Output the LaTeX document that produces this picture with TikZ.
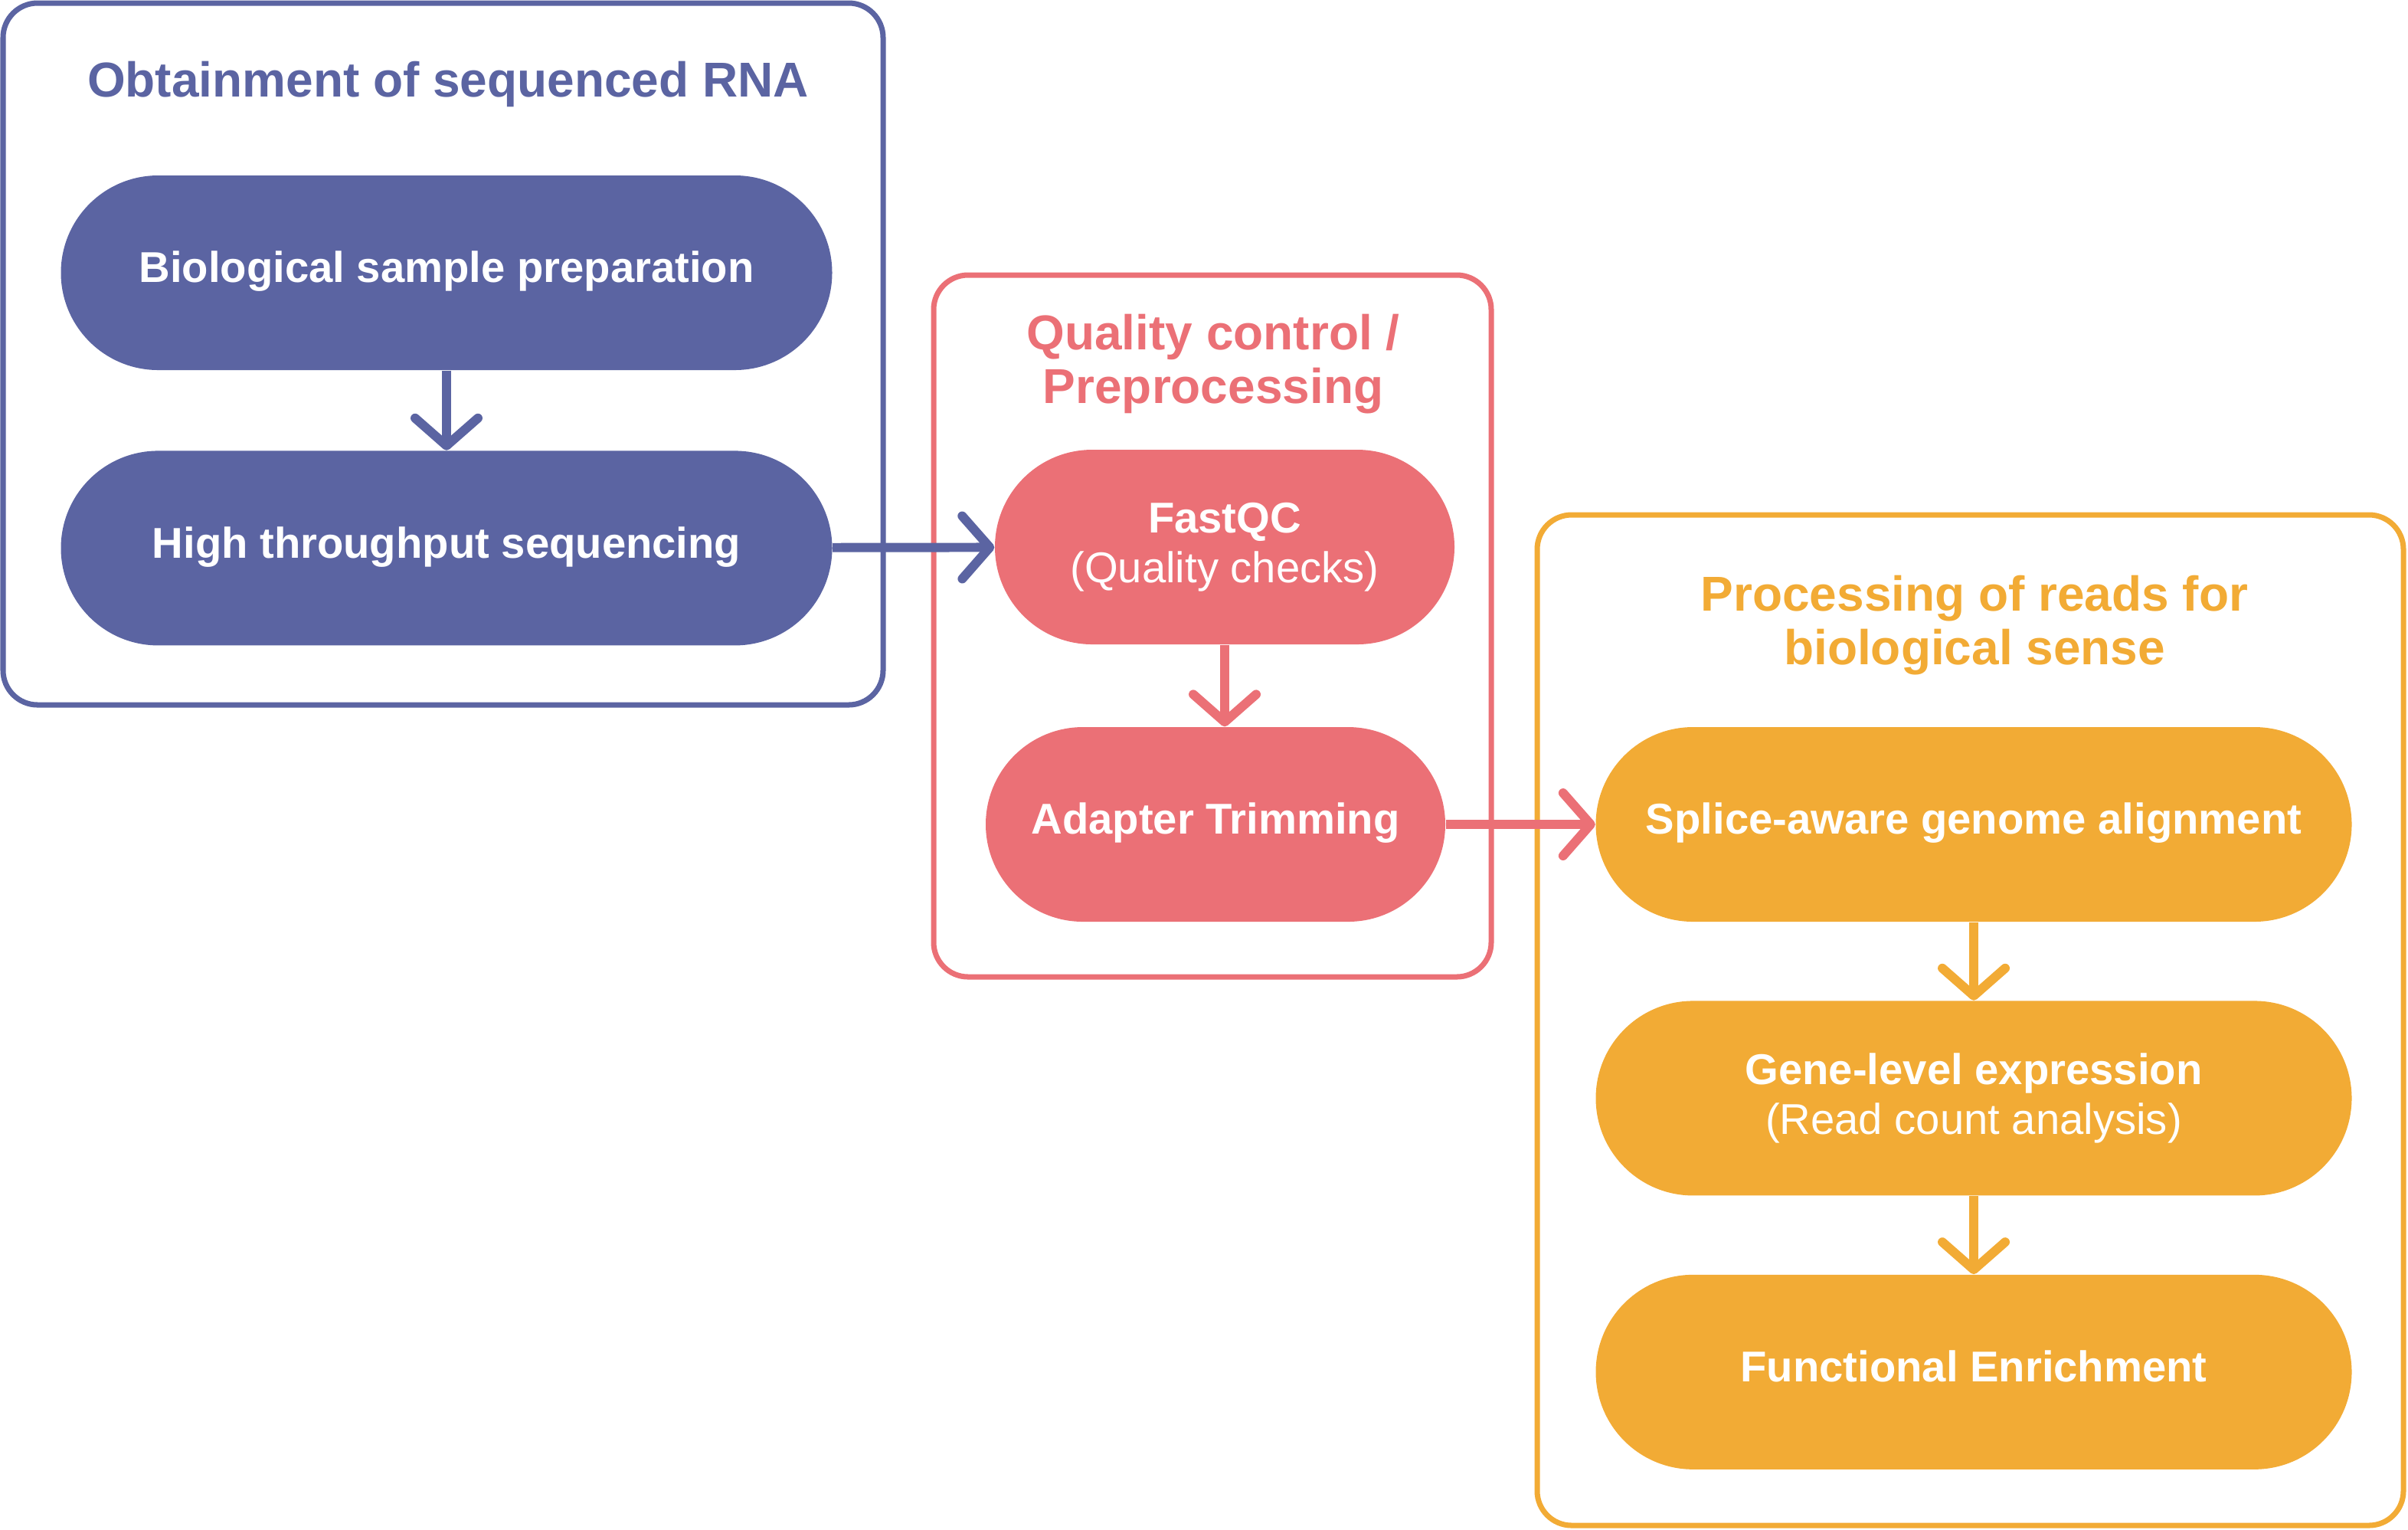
\documentclass[tikz,border=0pt]{standalone}
\usepackage{fontspec}
\setmainfont{Liberation Sans}
\usepackage{tikz}
\usetikzlibrary{
  arrows.meta,
  positioning
}
\definecolor{rnaBlue}{HTML}{5B64A2}
\definecolor{rnaRed}{HTML}{EB7076}
\definecolor{rnaOrange}{HTML}{F2AB35}
\newcommand{\subline}[1]{{\fontsize{16}{18.5}\selectfont\mdseries #1}}
\tikzset{
  stepnode/.style={
    rounded corners=1.27cm, minimum height=2.54cm, inner sep=0pt,
    text=white, align=center, font=\fontsize{16}{18.5}\selectfont\bfseries
  },
  oneline/.style={text height=0.9em, text depth=0.184em},
  bluestep/.style={stepnode, fill=rnaBlue, minimum width=10.07cm},
  redstep/.style={stepnode, fill=rnaRed, minimum width=6.0cm},
  orangestep/.style={stepnode, fill=rnaOrange, minimum width=9.87cm},
  zone/.style={draw=#1, rounded corners=0.45cm, line width=2pt, inner sep=0pt},
  zonetitle/.style={text=#1, align=center, font=\fontsize{18.2}{19.7}\selectfont\bfseries},
  flow/.style={draw=#1, line width=3.4pt, -{Straight Barb[length=0.36cm, width=0.82cm, round]}}
}
\begin{document}
\begin{tikzpicture}
  \useasboundingbox (0,0) rectangle (31.44,-19.96);
  % group frames
  \node[zone=rnaBlue, minimum width=11.49cm, minimum height=9.16cm] (obtain) at (5.785,-4.62) {};
  \node[zone=rnaRed, minimum width=7.28cm, minimum height=9.16cm] (qc) at (15.83,-8.17) {};
  \node[zone=rnaOrange, minimum width=11.31cm, minimum height=13.19cm] (proc) at (25.725,-13.315) {};
  \node[zonetitle=rnaBlue] (obtaintitle) at (5.85,-1.10) {Obtainment of sequenced RNA};
  \node[zonetitle=rnaRed] (qctitle) at (15.84,-4.75) {Quality control /\\Preprocessing};
  \node[zonetitle=rnaOrange] (proctitle) at (25.78,-8.16) {Processing of reads for\\biological sense};
  % steps
  \node[bluestep, oneline] (bio) at (5.83,-3.56) {Biological sample preparation};
  \node[bluestep, oneline, below=1.04cm of bio] (hts) {High throughput sequencing};
  \node[redstep] (fastqc) at (15.99,-7.14) {FastQC\\\subline{(Quality checks)}};
  \node[redstep, oneline] (adapt) at (15.87,-10.76) {Adapter Trimming};
  \node[orangestep, oneline] (splice) at (25.77,-10.76) {Splice-aware genome alignment};
  \node[orangestep, below=1.02cm of splice] (gene) {Gene-level expression\\\subline{(Read count analysis)}};
  \node[orangestep, oneline, below=1.02cm of gene] (func) {Functional Enrichment};
  % connectors
  \draw[flow=rnaBlue] (bio) -- (hts);
  \draw[flow=rnaBlue] (hts) -- (fastqc);
  \draw[flow=rnaRed] (fastqc) -- (fastqc |- adapt.north);
  \draw[flow=rnaRed] (adapt) -- (splice);
  \draw[flow=rnaOrange] (splice) -- (gene);
  \draw[flow=rnaOrange] (gene) -- (func);
\end{tikzpicture}
\end{document}
